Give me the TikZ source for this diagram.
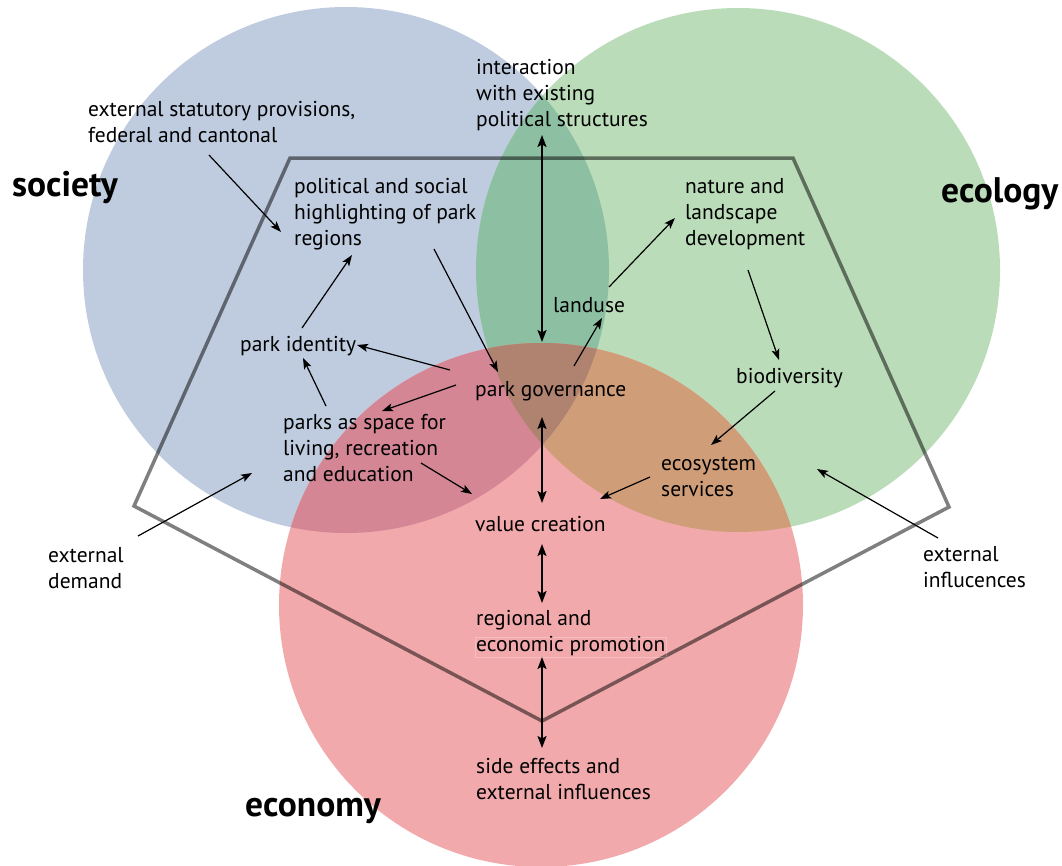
\documentclass[tikz,border=0pt]{standalone}
\usepackage{fontspec}
\setmainfont{PT Sans}
\usetikzlibrary{arrows.meta}
\definecolor{cB}{RGB}{191,204,224}
\definecolor{cG}{RGB}{187,220,185}
\definecolor{cR}{RGB}{242,169,172}
\definecolor{cBG}{RGB}{141,192,163}
\definecolor{cBR}{RGB}{212,134,149}
\definecolor{cGR}{RGB}{208,157,121}
\definecolor{cBGR}{RGB}{176,130,112}
\begin{document}
\begin{tikzpicture}[x=1pt,y=-1pt,
  lbl/.style={anchor=west,inner sep=0pt,align=left,yshift=-1.5pt,font=\fontsize{21.5}{26}\selectfont},
  ttl/.style={anchor=west,inner sep=0pt,yshift=-1.5pt,font=\fontsize{35.5}{40}\selectfont\bfseries},
  arr/.style={-{Stealth[length=11pt,width=8pt,inset=2.5pt]},line width=1.2pt},
  darr/.style={{Stealth[length=12pt,width=9pt,inset=2.5pt]}-{Stealth[length=12pt,width=9pt,inset=2.5pt]},line width=2pt},
  frame/.style={draw=black,draw opacity=0.5,line width=3.5pt,line join=miter}]
\useasboundingbox (0,0) rectangle (1062,865);
% circles
\coordinate (CB) at (346,270);
\coordinate (CG) at (738,270);
\coordinate (CR) at (541,605);
\fill[cB] (CB) circle[radius=263pt];
\fill[cG] (CG) circle[radius=262pt];
\fill[cR] (CR) circle[radius=262pt];
\begin{scope}\clip (CB) circle[radius=263pt]; \fill[cBG] (CG) circle[radius=262pt];\end{scope}
\begin{scope}\clip (CB) circle[radius=263pt]; \fill[cBR] (CR) circle[radius=262pt];\end{scope}
\begin{scope}\clip (CG) circle[radius=262pt]; \fill[cGR] (CR) circle[radius=262pt];\end{scope}
\begin{scope}\clip (CB) circle[radius=263pt]; \clip (CG) circle[radius=262pt]; \fill[cBGR] (CR) circle[radius=262pt];\end{scope}
% pentagon frame
\coordinate (P1) at (290,158);
\coordinate (P2) at (793,158);
\coordinate (P3) at (949,507);
\coordinate (P4) at (542,721);
\coordinate (P5) at (134,506);
\draw[frame] (P1) -- (P2) -- (P3) -- (P4) -- (P5) -- cycle;
% labels
\node[lbl] (int) at (476,94) {interaction\\with existing\\political structures};
\node[lbl] (stat) at (88,120.5) {external statutory provisions,\\federal and cantonal};
\node[ttl] (soc) at (12,186) {society};
\node[ttl] (eco) at (941,192) {ecology};
\node[ttl] (econ) at (245,810) {economy};
\node[lbl] (pol) at (294,213) {political and social\\highlighting of park\\regions};
\node[lbl] (nat) at (685,213) {nature and\\landscape\\development};
\node[lbl] (land) at (553,304) {landuse};
\node[lbl] (ident) at (240,345) {park identity};
\node[lbl] (bio) at (736,377) {biodiversity};
\node[lbl] (gov) at (475,390) {park governance};
\node[lbl] (parks) at (283,447) {parks as space for\\living, recreation\\and education};
\node[lbl] (ecos) at (661,475) {ecosystem\\services};
\node[lbl] (val) at (475,523) {value creation};
\node[lbl] (dem) at (48,567) {external\\demand};
\node[lbl] (inf) at (923,566) {external\\influcences};
\node[lbl] (reg) at (476,632) {regional and\\economic promotion};
\node[lbl] (side) at (476,778) {side effects and\\external influences};
\draw[white,opacity=0.25,line width=0.6pt] (475,637) rectangle (666,657);
% connector end points
\coordinate (a1s) at (542,135);  \coordinate (a1e) at (542,342);
\coordinate (a2s) at (209,155);  \coordinate (a2e) at (281,232);
\coordinate (a3s) at (302,328);  \coordinate (a3e) at (352,255);
\coordinate (a4s) at (434,249);  \coordinate (a4e) at (498,372);
\coordinate (a5s) at (450,370);  \coordinate (a5e) at (357,345);
\coordinate (a6s) at (456,385);  \coordinate (a6e) at (382,411);
\coordinate (a7s) at (326,406);  \coordinate (a7e) at (303,358);
\coordinate (a8s) at (421,463);  \coordinate (a8e) at (472,494);
\coordinate (a9s) at (138,536);  \coordinate (a9e) at (252,473);
\coordinate (a10s) at (609,287); \coordinate (a10e) at (675,218);
\coordinate (a11s) at (574,366); \coordinate (a11e) at (602,318);
\coordinate (a12s) at (748,270); \coordinate (a12e) at (779,360);
\coordinate (a13s) at (775,391); \coordinate (a13e) at (711,445);
\coordinate (a14s) at (650,477); \coordinate (a14e) at (600,499);
\coordinate (a15s) at (542,417); \coordinate (a15e) at (542,503);
\coordinate (a16s) at (542,544); \coordinate (a16e) at (542,603);
\coordinate (a17s) at (542,657); \coordinate (a17e) at (542,748);
\coordinate (a18s) at (938,538); \coordinate (a18e) at (817,469);
\draw[darr] (a1s) -- (a1e);
\draw[arr] (a2s) -- (a2e);
\draw[arr] (a3s) -- (a3e);
\draw[arr] (a4s) -- (a4e);
\draw[arr] (a5s) -- (a5e);
\draw[arr] (a6s) -- (a6e);
\draw[arr] (a7s) -- (a7e);
\draw[arr] (a8s) -- (a8e);
\draw[arr] (a9s) -- (a9e);
\draw[arr] (a10s) -- (a10e);
\draw[arr] (a11s) -- (a11e);
\draw[arr] (a12s) -- (a12e);
\draw[arr] (a13s) -- (a13e);
\draw[arr] (a14s) -- (a14e);
\draw[darr] (a15s) -- (a15e);
\draw[darr] (a16s) -- (a16e);
\draw[darr] (a17s) -- (a17e);
\draw[arr] (a18s) -- (a18e);
\end{tikzpicture}
\end{document}
